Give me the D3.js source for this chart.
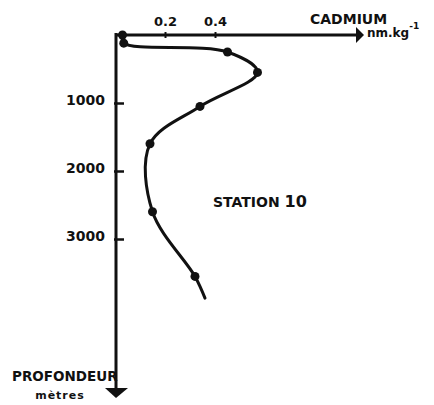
<!DOCTYPE html>
<html>
<head>
<meta charset="utf-8">
<script src="https://cdn.jsdelivr.net/npm/d3@7"></script>
<style>
  body { margin: 0; background: #fff; }
  svg text { font-family: "DejaVu Sans", sans-serif; font-weight: bold; fill: #111; }
</style>
</head>
<body>
<div id="chart"></div>
<script>
// valeurs (cadmium en nm/kg, profondeur en metres)
const cadmium = [0.03, 0.035, 0.45, 0.57, 0.34, 0.14, 0.15, 0.32];
const profondeur = [0, 120, 250, 550, 1050, 1600, 2600, 3550];
// fin du trait, sans point
const finCadmium = 0.36;
const finProfondeur = 3870;

const xTicks = [0.2, 0.4];
const yTicks = [1000, 2000, 3000];

const width = 434;
const height = 405;

const x = d3.scaleLinear()
    .domain([0, 0.4])
    .range([115, 215]);

const y = d3.scaleLinear()
    .domain([0, 3000])
    .range([35, 239]);

const svg = d3.select("#chart").append("svg")
    .attr("width", width)
    .attr("height", height)
    .attr("viewBox", [0, 0, width, height]);

// axe horizontal (cadmium)
const axisX = svg.append("g")
    .attr("transform", `translate(0,${y(0)})`)
    .call(d3.axisTop(x).tickValues(xTicks).tickSizeInner(4).tickSizeOuter(0)
        .tickPadding(5).tickFormat(d3.format(".1f")));
axisX.select(".domain").remove();
axisX.selectAll(".tick line").attr("y2", -3).attr("y1", 3).attr("stroke", "#111").attr("stroke-width", 2);
axisX.selectAll(".tick text").attr("font-size", 13).attr("fill", "#111");

// axe vertical (profondeur)
const axisY = svg.append("g")
    .attr("transform", `translate(116,0)`)
    .call(d3.axisLeft(y).tickValues(yTicks).tickSizeInner(-8).tickSizeOuter(0)
        .tickPadding(11).tickFormat(d3.format("d")));
axisY.select(".domain").remove();
axisY.selectAll(".tick line").attr("x1", -2).attr("stroke", "#111").attr("stroke-width", 2.5);
axisY.selectAll(".tick text").attr("font-size", 14).attr("dy", "0.1em").attr("fill", "#111");

// lignes des axes avec fleches
svg.append("line")
    .attr("x1", 116).attr("y1", y(0))
    .attr("x2", 358).attr("y2", y(0))
    .attr("stroke", "#111").attr("stroke-width", 3);
svg.append("path")
    .attr("d", `M356,${y(0) - 8} L364,${y(0)} L356,${y(0) + 8} Z`)
    .attr("fill", "#111");

svg.append("line")
    .attr("x1", 116).attr("y1", y(0) - 2)
    .attr("x2", 116).attr("y2", 390)
    .attr("stroke", "#111").attr("stroke-width", 3);
svg.append("path")
    .attr("d", "M105,388 L128,388 L116,398 Z")
    .attr("fill", "#111");

// courbe
const points = cadmium.map((c, i) => ({ c: c, p: profondeur[i] }));
const trace = points.concat([{ c: finCadmium, p: finProfondeur }]);

svg.append("path")
    .attr("fill", "none")
    .attr("stroke", "#111")
    .attr("stroke-width", 3)
    .attr("stroke-linecap", "round")
    .attr("d", d3.line()
        .x(d => x(d.c))
        .y(d => y(d.p))
        .curve(d3.curveCatmullRom.alpha(0.5))(trace));

svg.append("g")
    .selectAll("circle")
    .data(points)
    .join("circle")
    .attr("cx", d => x(d.c))
    .attr("cy", d => y(d.p))
    .attr("r", 4.5)
    .attr("fill", "#111");

// textes
svg.append("text")
    .attr("x", 310).attr("y", 24)
    .attr("font-size", 14)
    .text("CADMIUM");

const unite = svg.append("text")
    .attr("x", 367).attr("y", 37)
    .attr("font-size", 12)
    .text("nm.kg");
unite.append("tspan")
    .attr("dy", -8)
    .attr("font-size", 9)
    .text("-1");

const station = svg.append("text")
    .attr("x", 213).attr("y", 207)
    .attr("font-size", 14)
    .text("STATION ");
station.append("tspan")
    .attr("font-size", 16)
    .text("10");

svg.append("text")
    .attr("x", 12).attr("y", 381)
    .attr("font-size", 13.5)
    .text("PROFONDEUR");

svg.append("text")
    .attr("x", 60).attr("y", 399)
    .attr("text-anchor", "middle")
    .attr("font-size", 11)
    .attr("letter-spacing", 1)
    .text("mètres");
</script>
</body>
</html>
